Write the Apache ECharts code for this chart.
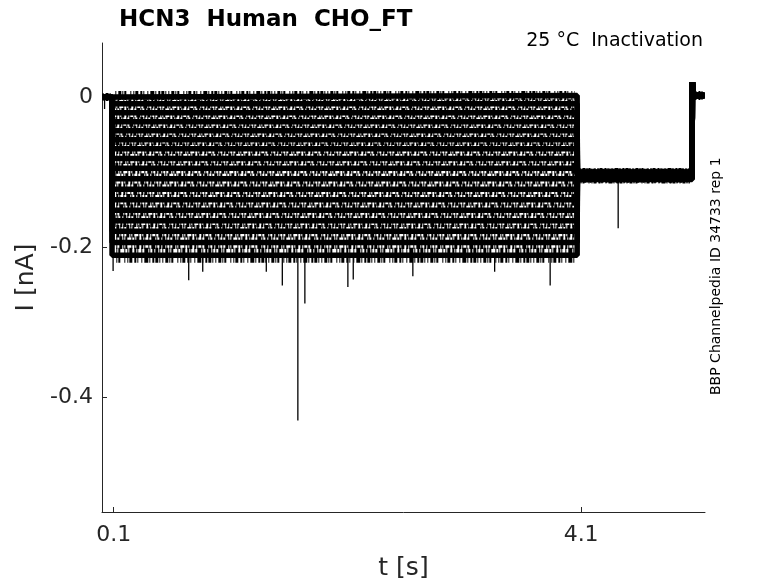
<!DOCTYPE html>
<html lang="en">
  <head>
    <meta charset="UTF-8" />
    <title>HCN3 Human CHO_FT</title>
    <style>
      html, body { margin: 0; padding: 0; background: #fff; }
      #main { width: 778px; height: 583px; }
    </style>
  </head>
  <body>
    <script src="https://cdn.jsdelivr.net/npm/echarts@6.0.0/dist/echarts.min.js"></script>
    <div id="main"></div>
    <script>
      // protocol timing [s]
      const stepStart = 0.084
      const stepEnd = 4.066
      const testEnd = 5.05
      const traceEnd = 5.155

      // current during the conditioning step, one value per sweep [nA]
      const stepLevels = [
        0.002, -0.009, -0.021, -0.033, -0.045, -0.057, -0.069, -0.082, -0.095,
        -0.109, -0.123, -0.137, -0.151, -0.165, -0.179, -0.194, -0.211
      ]
      // current during the test pulse after each step [nA]
      const testLevels = [
        -0.100, -0.101, -0.101, -0.102, -0.102, -0.103, -0.103, -0.104, -0.104,
        -0.105, -0.105, -0.106, -0.106, -0.107, -0.108, -0.109, -0.110
      ]
      const holdLevel = 0.0
      const tailPeak = 0.02
      const tailLevel = 0.002

      // narrow transients: [t, base, tip]
      const spikes = [
        [0.022, 0.0, -0.016],
        [0.095, -0.21, -0.232],
        [0.742, -0.21, -0.244],
        [0.862, -0.21, -0.233],
        [1.406, -0.21, -0.233],
        [1.543, -0.21, -0.251],
        [1.676, -0.21, -0.431],
        [1.736, -0.21, -0.275],
        [2.104, -0.21, -0.253],
        [2.15, -0.21, -0.243],
        [2.66, -0.21, -0.239],
        [3.36, -0.21, -0.233],
        [3.835, -0.21, -0.251],
        [4.417, -0.108, -0.175]
      ]

      const ink = '#262626'
      const chart = echarts.init(document.getElementById('main'))

      function sweepData(i) {
        return [
          [0, holdLevel],
          [stepStart, holdLevel],
          [stepStart + 0.002, stepLevels[i]],
          [stepEnd, stepLevels[i]],
          [stepEnd + 0.002, testLevels[i]],
          [testEnd, testLevels[i]],
          [testEnd + 0.002, tailPeak],
          [testEnd + 0.008, tailLevel],
          [traceEnd, tailLevel]
        ]
      }

      const base = {
        type: 'line',
        showSymbol: false,
        silent: true,
        animation: false
      }

      // solid core of each sweep
      const sweepSeries = stepLevels.map((level, i) => ({
        ...base,
        lineStyle: { color: '#000', width: 5.5 },
        data: sweepData(i)
      }))

      // ragged fringe over the flat parts only, to suggest recording noise
      const fringeDash = [
        1, 2, 3, 1, 1, 1, 2, 4, 1, 2, 1, 1, 3, 2, 2, 1, 1, 3, 1, 2, 4, 1, 1, 2,
        2, 1, 3, 1, 1, 2
      ]
      function fringe(i, a, b, level, width) {
        return {
          ...base,
          lineStyle: {
            color: '#000',
            width,
            type: fringeDash,
            dashOffset: i * 7
          },
          data: [
            [a, level],
            [b, level]
          ]
        }
      }
      const fringeSeries = []
      stepLevels.forEach((level, i) => {
        const w = i === stepLevels.length - 1 ? 15 : 9 + i * 0.25
        fringeSeries.push(fringe(i, stepStart + 0.03, stepEnd - 0.02, level, w))
        fringeSeries.push(fringe(i, stepEnd + 0.02, testEnd - 0.02, testLevels[i], 8))
      })
      fringeSeries.push(fringe(0, 0.005, stepStart - 0.01, holdLevel, 8))
      fringeSeries.push(fringe(3, testEnd + 0.02, traceEnd, tailLevel, 9))

      const spikeSeries = spikes.map(([t, b, tip]) => ({
        ...base,
        lineStyle: { color: '#000', width: 1.3 },
        data: [
          [t, b],
          [t, tip]
        ]
      }))

      const labelFont = 'DejaVu Sans, sans-serif'

      chart.setOption({
        animation: false,
        grid: { left: 102, top: 43, right: 73, bottom: 71, outerBoundsMode: 'none' },
        title: [
          {
            text: 'HCN3  Human  CHO_FT',
            left: 114,
            top: 4,
            textStyle: {
              fontFamily: 'DejaVu Sans',
              fontWeight: 'bold',
              fontSize: 23,
              color: '#000'
            }
          }
        ],
        graphic: [
          {
            type: 'text',
            right: 75,
            top: 32,
            style: {
              text: '25 °C  Inactivation',
              font: '19px DejaVu Sans',
              fill: '#000'
            }
          },
          {
            type: 'text',
            x: 709,
            y: 395,
            rotation: Math.PI / 2,
            style: {
              text: 'BBP Channelpedia ID 34733 rep 1',
              font: '14px DejaVu Sans',
              fill: '#000'
            }
          }
        ],
        xAxis: {
          type: 'value',
          min: 0,
          max: 5.16,
          name: 't [s]',
          nameLocation: 'middle',
          nameGap: 44,
          nameTextStyle: { fontFamily: labelFont, fontSize: 25, color: ink },
          splitLine: { show: false },
          axisLine: { onZero: false, lineStyle: { color: ink, width: 1 } },
          axisTick: {
            inside: true,
            length: 5,
            customValues: [0.1, 4.1],
            lineStyle: { color: ink }
          },
          axisLabel: {
            customValues: [0.1, 4.1],
            formatter: (v) => v.toFixed(1),
            fontFamily: labelFont,
            fontSize: 22,
            color: ink,
            margin: 12
          }
        },
        yAxis: {
          type: 'value',
          min: -0.553,
          max: 0.072,
          name: 'I [nA]',
          nameLocation: 'middle',
          nameGap: 59,
          nameTextStyle: { fontFamily: labelFont, fontSize: 25, color: ink },
          splitLine: { show: false },
          axisLine: { show: true, onZero: false, lineStyle: { color: ink, width: 1 } },
          axisTick: {
            show: true,
            inside: true,
            length: 5,
            customValues: [-0.4, -0.2, 0],
            lineStyle: { color: ink }
          },
          axisLabel: {
            customValues: [-0.4, -0.2, 0],
            formatter: (v) => (v === 0 ? '0' : v.toFixed(1)),
            fontFamily: labelFont,
            fontSize: 22,
            color: ink,
            margin: 9
          }
        },
        series: [...sweepSeries, ...fringeSeries, ...spikeSeries]
      })
    </script>
  </body>
</html>
